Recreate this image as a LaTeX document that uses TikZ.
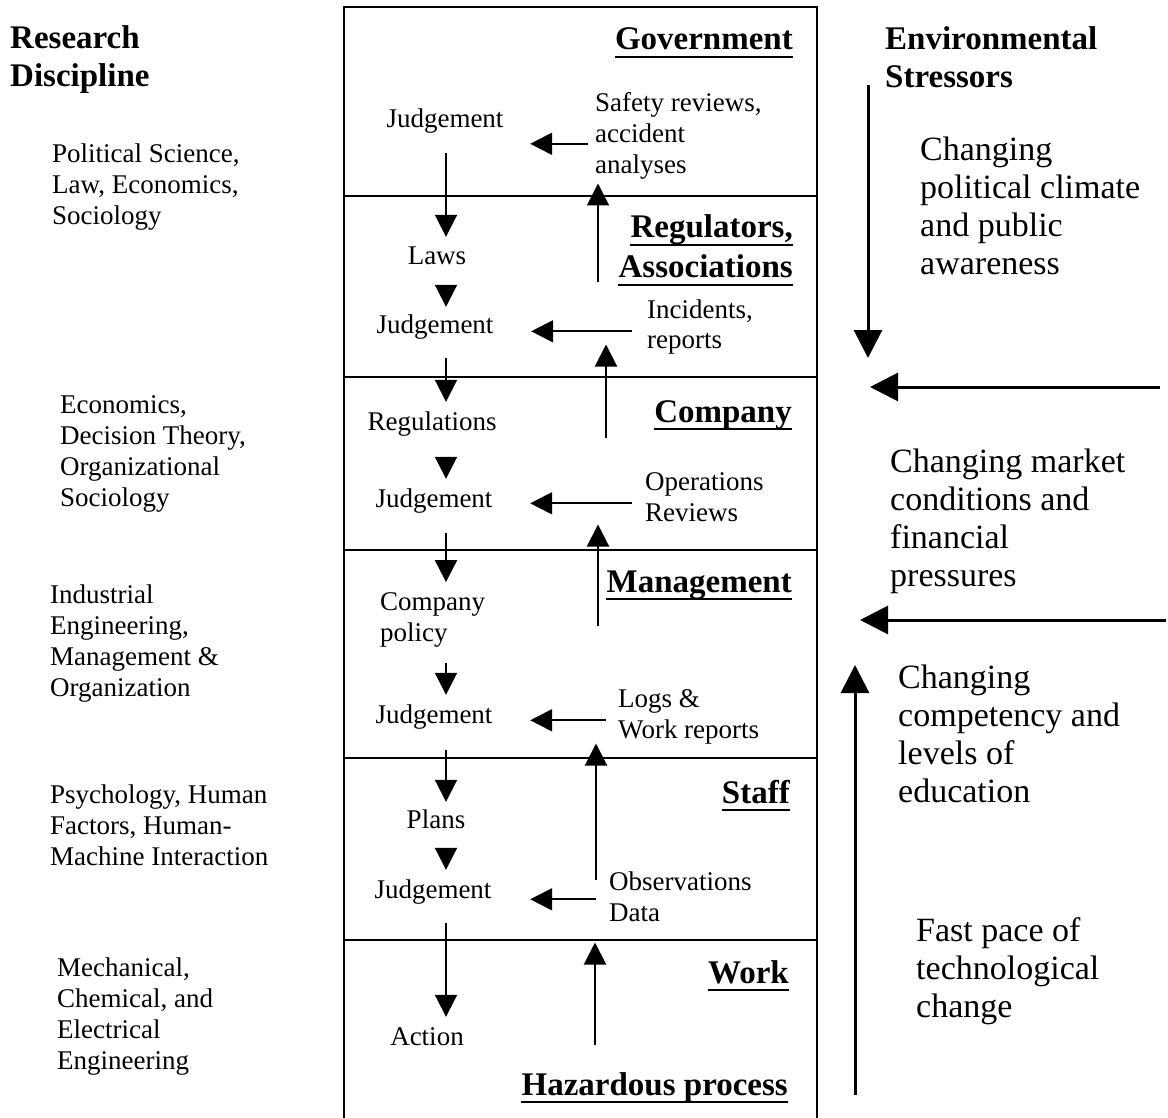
\documentclass[tikz,border=0pt]{standalone}
\usepackage{fontspec}
\setmainfont{Liberation Serif}
\usetikzlibrary{arrows.meta}
\newcommand\mlines[1]{\begin{tabular}[t]{@{}l@{}}#1\end{tabular}}
\tikzset{
  sm/.style={font=\fontsize{27}{31}\selectfont, inner sep=0pt},
  smj/.style={sm, text height=19pt, text depth=6pt, anchor=base},
  smm/.style={sm, anchor=base west},
  big/.style={font=\fontsize{34}{38}\selectfont, inner sep=0pt, anchor=base west},
  hd/.style={font=\bfseries\fontsize{33}{38}\selectfont, inner sep=0pt},
  lay/.style={hd, anchor=base east},
  ul/.style={line width=2.5pt},
  frame/.style={line width=2pt},
  arr/.style={line width=2pt, -{Triangle[length=22pt,width=22pt]}},
  bigarr/.style={line width=3pt, -{Triangle[length=28pt,width=28pt]}},
}
\begin{document}
\begin{tikzpicture}[x=1pt,y=-1pt]
\useasboundingbox (0,0) rectangle (1168,1118);
% frame
\draw[frame] (344,1118) -- (344,7) -- (817,7) -- (817,1118);
\foreach \yy in {196,377,550,758,940} \draw[frame] (344,\yy) -- (817,\yy);

% headers
\node[hd, anchor=base west] (rd) at (10,49) {\mlines{Research\\Discipline}};
\node[hd, anchor=base west] (es) at (885,50) {\mlines{Environmental\\Stressors}};

% disciplines
\node[smm] (d1) at (52,163) {\mlines{Political Science,\\Law, Economics,\\Sociology}};
\node[smm] (d2) at (60,413) {\mlines{Economics,\\Decision Theory,\\Organizational\\Sociology}};
\node[smm] (d3) at (50,603) {\mlines{Industrial\\Engineering,\\Management \&\\Organization}};
\node[smm] (d4) at (50,803) {\mlines{Psychology, Human\\Factors, Human-\\Machine Interaction}};
\node[smm] (d5) at (57,976) {\mlines{Mechanical,\\Chemical, and\\Electrical\\Engineering}};

% layer labels
\node[lay] (gov) at (793,50) {Government};
\node[lay] (reg1) at (793,238) {Regulators,};
\node[lay] (reg2) at (793,278) {Associations};
\node[lay] (comp) at (792,422) {Company};
\node[lay] (mgmt) at (792,592) {Management};
\node[lay] (staff) at (790,803) {Staff};
\node[lay] (work) at (789,983) {Work};
\node[lay] (haz) at (788,1095) {Hazardous process};
\foreach \n in {gov,reg1,reg2,comp,mgmt,staff,work,haz}
  \draw[ul] ([yshift=-7pt]\n.base west) -- ([yshift=-7pt]\n.base east);

% decision column
\node[smj] (j1) at (445,128) {Judgement};
\node[smj] (laws) at (437,265) {Laws};
\node[smj] (j2) at (435,333) {Judgement};
\node[smj] (regs) at (432,430) {Regulations};
\node[smj] (j3) at (434,507) {Judgement};
\node[smm] (pol) at (380,610) {\mlines{Company\\policy}};
\node[smj] (j4) at (434,723) {Judgement};
\node[smj] (plans) at (436,828) {Plans};
\node[smj] (j5) at (433,898) {Judgement};
\node[smj] (act) at (427,1045) {Action};

% feedback column
\node[smm] (saf) at (595,112) {\mlines{Safety reviews,\\accident\\analyses}};
\node[smm] (inc) at (647,318) {\mlines{Incidents,\\reports}};
\node[smm] (ops) at (645,490) {\mlines{Operations\\Reviews}};
\node[smm] (logs) at (618,707) {\mlines{Logs \&\\Work reports}};
\node[smm] (obs) at (609,890) {\mlines{Observations\\Data}};

% stressor texts
\node[big] (s1) at (920,161) {\mlines{Changing\\political climate\\and public\\awareness}};
\node[big] (s2) at (890,472) {\mlines{Changing market\\conditions and\\financial\\pressures}};
\node[big] (s3) at (898,688) {\mlines{Changing\\competency and\\levels of\\education}};
\node[big] (s4) at (916,941) {\mlines{Fast pace of\\technological\\change}};

% downward flow
\coordinate (cx) at (446,0);
\draw[arr, shorten <=19pt, shorten >=9pt] (j1.south -| cx) -- (laws.north -| cx);
\draw[arr, shorten <=14pt, shorten >=7pt] (laws.south -| cx) -- (j2.north -| cx);
\draw[arr, shorten <=19pt, shorten >=9pt] (j2.south -| cx) -- (regs.north -| cx);
\draw[arr, shorten <=21pt, shorten >=9pt] (regs.south -| cx) -- (j3.north -| cx);
\draw[arr, shorten <=20pt, shorten >=6pt] (j3.south -| cx) -- (pol.north -| cx);
\draw[arr, shorten <=12pt, shorten >=9pt] (pol.south -| cx) -- (j4.north -| cx);
\draw[arr, shorten <=21pt, shorten >=7pt] (j4.south -| cx) -- (plans.north -| cx);
\draw[arr, shorten <=14pt, shorten >=9pt] (plans.south -| cx) -- (j5.north -| cx);
\draw[arr, shorten <=19pt, shorten >=9pt] (j5.south -| cx) -- (act.north -| cx);

% feedback into judgement
\draw[arr, shorten <=7pt, shorten >=26.5pt] ([yshift=-7pt]saf.west) -- ([yshift=-7pt]saf.west -| j1.east);
\draw[arr, shorten <=15pt, shorten >=37.5pt] ([yshift=-4pt]inc.west) -- ([yshift=-4pt]inc.west -| j2.east);
\draw[arr, shorten <=13pt, shorten >=37.5pt] ([yshift=-4pt]ops.west) -- ([yshift=-4pt]ops.west -| j3.east);
\draw[arr, shorten <=12pt, shorten >=37.5pt] ([yshift=-4pt]logs.west) -- ([yshift=-4pt]logs.west -| j4.east);
\draw[arr, shorten <=13pt, shorten >=38.5pt] (obs.west) -- (obs.west -| j5.east);

% upward reports
\coordinate (u1) at (598,0);
\coordinate (u2) at (606,0);
\coordinate (u3) at (598,0);
\coordinate (u4) at (596,0);
\coordinate (u5) at (595,0);
\draw[arr, shorten <=14pt, shorten >=0pt] (inc.north -| u1) -- (saf.south -| u1);
\draw[arr, shorten <=30pt, shorten >=-14pt] (ops.north -| u2) -- (inc.south -| u2);
\draw[arr, shorten <=59pt, shorten >=-6pt] (logs.north -| u3) -- (ops.south -| u3);
\draw[arr, shorten <=-12pt, shorten >=-4pt] (obs.north -| u4) -- (logs.south -| u4);
\draw[arr, shorten <=27pt, shorten >=12pt] (haz.north -| u5) -- (obs.south -| u5);

% environmental stressor arrows
\coordinate (pa) at (868,85);  \coordinate (pb) at (868,358);
\coordinate (ma) at (1160,387); \coordinate (mb) at (870,387);
\coordinate (fa) at (1166,620); \coordinate (fb) at (860,620);
\coordinate (ta) at (855,1095); \coordinate (tb) at (855,665);
\draw[bigarr] (pa) -- (pb);
\draw[bigarr] (ma) -- (mb);
\draw[bigarr] (fa) -- (fb);
\draw[bigarr] (ta) -- (tb);
\end{tikzpicture}
\end{document}
